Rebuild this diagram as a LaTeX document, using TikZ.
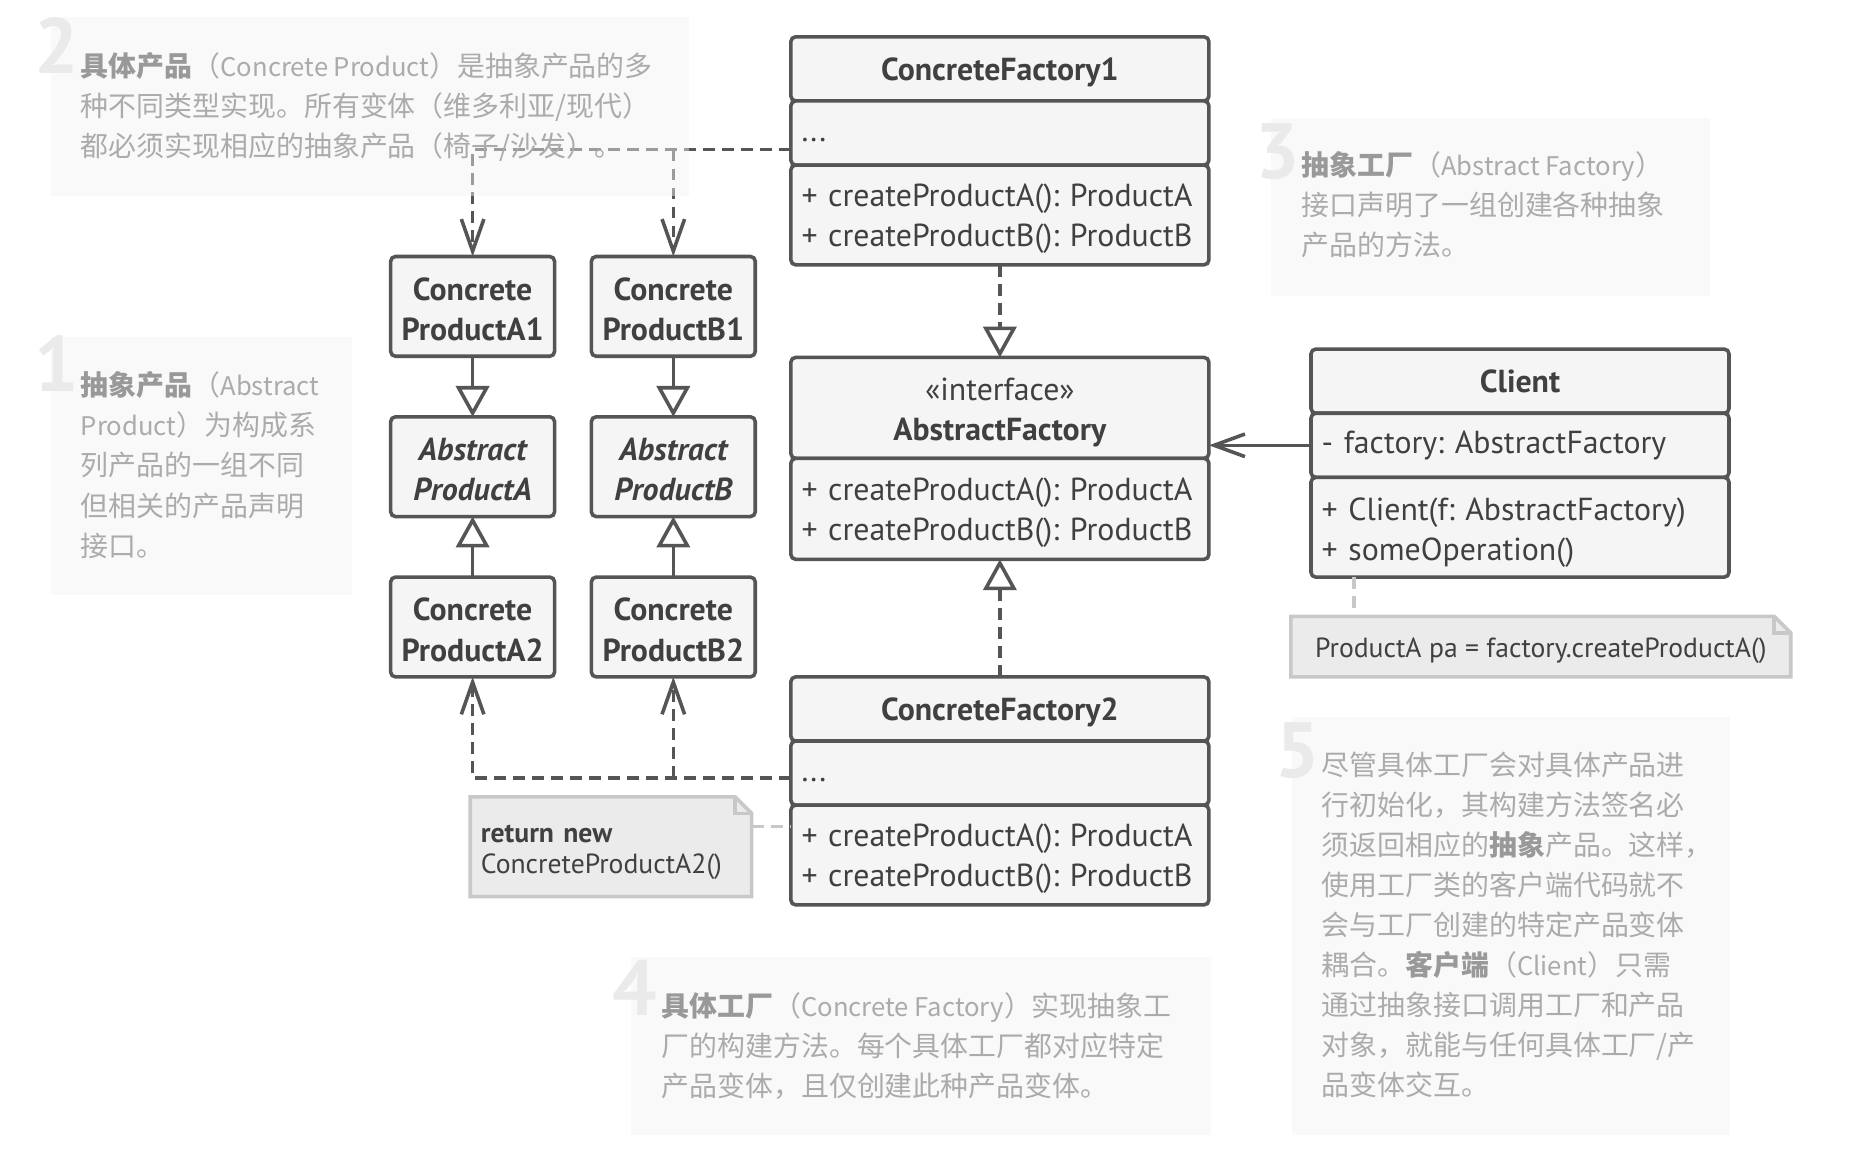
\documentclass[tikz,border=0pt]{standalone}
\usepackage{fontspec}
\setmainfont{PT Sans}
\newfontfamily\cjk{Noto Sans CJK SC}
\usetikzlibrary{arrows.meta,backgrounds}
\definecolor{boxline}{HTML}{555555}
\definecolor{boxtext}{HTML}{404040}
\definecolor{boxfill}{HTML}{F5F5F5}
\definecolor{notefill}{HTML}{EBEBEB}
\definecolor{noteline}{HTML}{C8C8C8}
\definecolor{expbg}{HTML}{F2F2F2}
\definecolor{exptxt}{HTML}{ABABAB}
\definecolor{expbold}{HTML}{999999}
\definecolor{bignum}{HTML}{EAEAEA}
\newcommand\eb[1]{{\bfseries\color{expbold}#1}}
\newcommand\lt[1]{{\fontsize{21.6}{33.7}\selectfont #1}}
\newcommand\up[1]{\rule{0pt}{#1pt}}
\frenchspacing
\begin{document}
\frenchspacing
\begin{tikzpicture}[x=1pt,y=-1pt,
  part/.style={draw=boxline, fill=boxfill, line width=3pt, rounded corners=4pt,
    anchor=north west, minimum width=352pt, inner sep=0pt, outer sep=0pt, text=boxtext,
    font=\fontsize{26.8}{34}\selectfont},
  titlepart/.style={part, align=center, text depth=0pt, font=\bfseries\fontsize{26.8}{34}\selectfont},
  listpart/.style={part, align=left, text width=334pt, inner xsep=9pt},
  prod/.style={part, minimum width=138pt, minimum height=84pt, align=center,
    font=\bfseries\fontsize{26.8}{34}\selectfont},
  absprod/.style={prod, font=\bfseries\itshape\fontsize{26.8}{34}\selectfont},
  notetext/.style={anchor=north west, inner sep=0pt, outer sep=0pt, text=boxtext,
    font=\fontsize{23.3}{25.5}\selectfont},
  notebox/.style={draw=noteline, fill=notefill, line width=3pt, line join=miter},
  notelink/.style={draw=noteline, line width=3pt, dash pattern=on 10pt off 6pt},
  dep/.style={draw=boxline, line width=3pt, dash pattern=on 10pt off 6pt,
    -{Straight Barb[length=27pt,width=19pt,line width=3pt]}},
  real/.style={draw=boxline, line width=3pt, dash pattern=on 10pt off 6pt,
    -{Triangle[open,length=26pt,width=28pt,line width=3pt]}},
  inh/.style={draw=boxline, line width=3pt,
    -{Triangle[open,length=26pt,width=28pt,line width=3pt]}},
  assoc/.style={draw=boxline, line width=3pt,
    -{Straight Barb[length=26pt,width=19pt,line width=3pt]}},
  expbox/.style={fill=expbg, fill opacity=0.45, draw=none},
  bignumber/.style={anchor=base west, inner sep=0pt, text=bignum,
    font=\bfseries\fontsize{66}{66}\selectfont},
  exptext/.style={anchor=north west, inner sep=0pt, align=left, text=exptxt,
    font=\cjk\fontsize{23.5}{33.7}\selectfont}
]
\useasboundingbox (0,0) rectangle (1568,987);
\begin{scope}[on background layer]
\fill[white] (0,0) rectangle (1568,987);
\end{scope}

% ConcreteFactory1
\node[titlepart, minimum height=54pt] (cf1h) at (666,31) {ConcreteFactory1};
\node[listpart, minimum height=54pt] (cf1a) at (666,85) {\strut...};
\node[listpart, minimum height=84pt] (cf1m) at (666,139) {\up{25}+ createProductA(): ProductA\\+ createProductB(): ProductB};

% AbstractFactory
\node[part, align=center, minimum height=85pt] (afh) at (666,301) {\up{27}«interface»\\\textbf{AbstractFactory}};
\node[listpart, minimum height=85pt] (afm) at (666,386) {\up{25}+ createProductA(): ProductA\\+ createProductB(): ProductB};

% Client
\node[titlepart, minimum height=54pt] (clh) at (1104,294) {Client};
\node[listpart, minimum height=54pt] (clf) at (1104,348) {- factory: AbstractFactory};
\node[listpart, minimum height=84pt] (clm) at (1104,402) {\up{28}+ Client(f: AbstractFactory)\\+ someOperation()};

% ConcreteFactory2
\node[titlepart, minimum height=54pt] (cf2h) at (666,570) {ConcreteFactory2};
\node[listpart, minimum height=54pt] (cf2a) at (666,624) {\strut...};
\node[listpart, minimum height=84pt] (cf2m) at (666,678) {\up{25}+ createProductA(): ProductA\\+ createProductB(): ProductB};

% Products
\node[prod] (cpa1) at (329,216) {\up{24}Concrete\\ProductA1};
\node[prod] (cpb1) at (498,216) {\up{24}Concrete\\ProductB1};
\node[absprod] (apa) at (329,351) {\up{24}Abstract\\ProductA};
\node[absprod] (apb) at (498,351) {\up{24}Abstract\\ProductB};
\node[prod] (cpa2) at (329,486) {\up{24}Concrete\\ProductA2};
\node[prod] (cpb2) at (498,486) {\up{24}Concrete\\ProductB2};

% Notes
\node[notetext, minimum width=421pt, minimum height=51pt] (cln) at (1087,519) {\up{24}ProductA pa = factory.createProductA()};
\node[notetext, align=left, text width=219pt, inner xsep=9pt, minimum height=84pt] (rn) at (396,671) {\up{24}\textbf{return new}\\ConcreteProductA2()};
\begin{scope}[on background layer]
\filldraw[notebox] (cln.south west) -- (cln.north west) -- ([xshift=-14pt]cln.north east) -- ([yshift=-14pt]cln.north east) -- (cln.south east) -- cycle;
\draw[notebox, fill=none] ([xshift=-14pt]cln.north east) |- ([yshift=-14pt]cln.north east);
\filldraw[notebox] (rn.south west) -- (rn.north west) -- ([xshift=-14pt]rn.north east) -- ([yshift=-14pt]rn.north east) -- (rn.south east) -- cycle;
\draw[notebox, fill=none] ([xshift=-14pt]rn.north east) |- ([yshift=-14pt]rn.north east);
\end{scope}

% Connectors
\coordinate (j1) at ([yshift=-14pt]cf1a.west);
\draw[dep] (j1) -| (cpa1.north);
\draw[dep] (j1 -| cpb1.north) -- (cpb1.north);
\coordinate (j2) at ([yshift=-4pt]cf2a.west);
\draw[dep] (j2) -| (cpa2.south);
\draw[dep] (j2 -| cpb2.south) -- (cpb2.south);
\draw[real] (cf1m.south) -- (afh.north);
\draw[real] (cf2h.north) -- (afm.south);
\draw[inh] (cpa1.south) -- (apa.north);
\draw[inh] (cpb1.south) -- (apb.north);
\draw[inh] (cpa2.north) -- (apa.south);
\draw[inh] (cpb2.north) -- (apb.south);
\draw[assoc] (clf.west) -- (clf.west -| afh.east);
\coordinate (k1) at ([xshift=36pt]clm.south west);
\draw[notelink] (k1) -- (k1 |- cln.north);
\coordinate (k2) at ([yshift=17pt]rn.east);
\draw[notelink] (k2) -- (k2 -| cf2m.west);

% Explanations
\fill[expbox] (43,14) rectangle (580,165);
\fill[expbox] (1070,99) rectangle (1440,249);
\fill[expbox] (43,284) rectangle (296,501);
\fill[expbox] (531,806) rectangle (1020,956);
\fill[expbox] (1088,604) rectangle (1457,956);

\node[bignumber] (n2) at (29,62) {2};
\node[bignumber] (n3) at (1057,150) {3};
\node[bignumber] (n1) at (29,330) {1};
\node[bignumber] (n4) at (516,855) {4};
\node[bignumber] (n5) at (1074,655) {5};

\node[exptext] (t2) at (68,44) {\eb{具体产品}（\lt{Concrete Product}）是抽象产品的多\\种不同类型实现。所有变体（维多利亚/现代）\\都必须实现相应的抽象产品（椅子/沙发）。};
\node[exptext] (t3) at (1096,127) {\eb{抽象工厂}（\lt{Abstract Factory}）\\接口声明了一组创建各种抽象\\产品的方法。};
\node[exptext] (t1) at (68,313) {\eb{抽象产品}（\lt{Abstract}\\\lt{Product}）为构成系\\列产品的一组不同\\但相关的产品声明\\接口。};
\node[exptext] (t4) at (557,836) {\eb{具体工厂}（\lt{Concrete Factory}）实现抽象工\\厂的构建方法。每个具体工厂都对应特定\\产品变体，且仅创建此种产品变体。};
\node[exptext] (t5) at (1113,633) {尽管具体工厂会对具体产品进\\行初始化，其构建方法签名必\\须返回相应的\eb{抽象}产品。这样，\\使用工厂类的客户端代码就不\\会与工厂创建的特定产品变体\\耦合。\eb{客户端}（\lt{Client}）只需\\通过抽象接口调用工厂和产品\\对象，就能与任何具体工厂/产\\品变体交互。};
\end{tikzpicture}
\end{document}
